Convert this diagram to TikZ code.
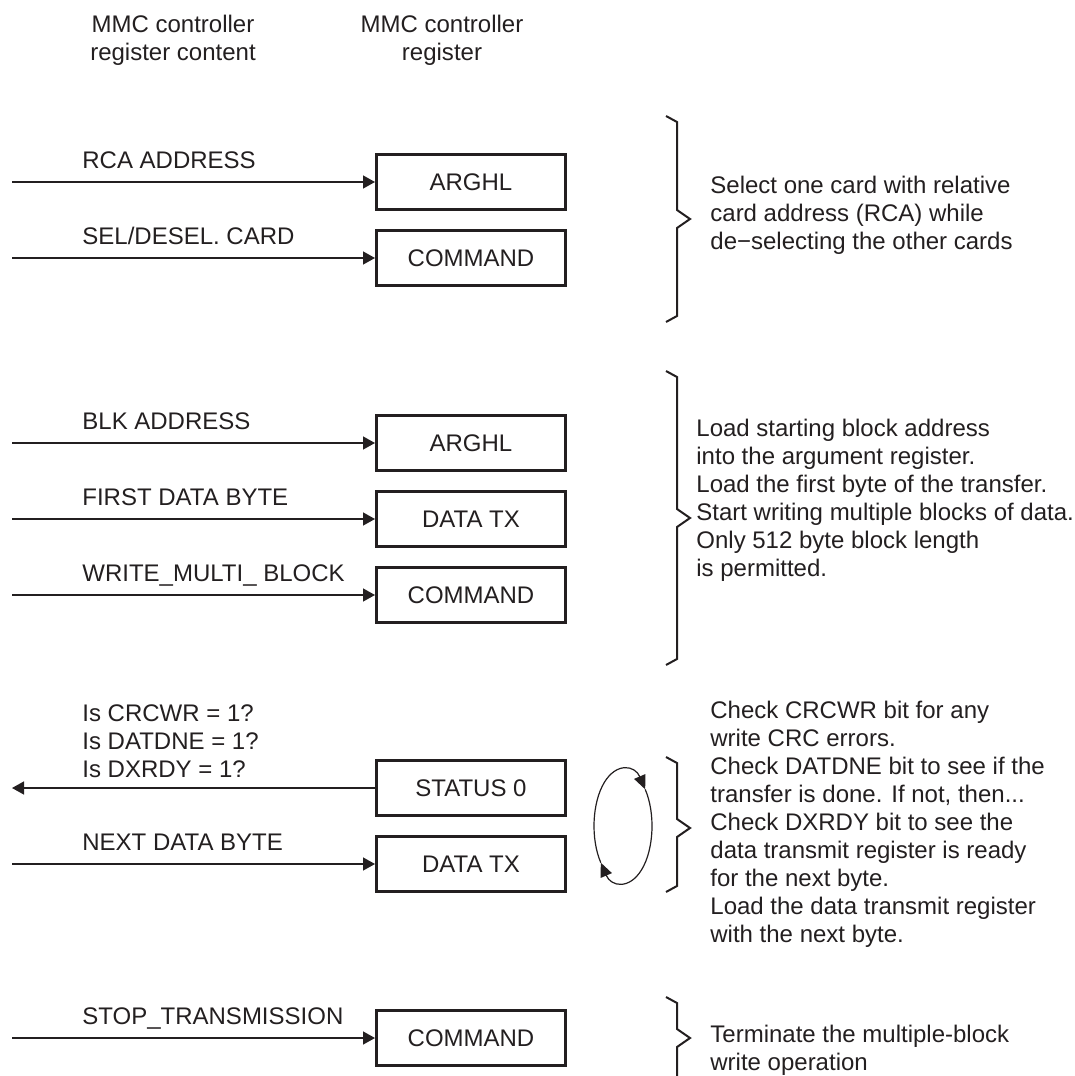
\documentclass[tikz,border=0pt]{standalone}
\usepackage{fontspec}
\setmainfont{Liberation Sans}
\usetikzlibrary{positioning}
\usetikzlibrary{arrows.meta}
\definecolor{ink}{RGB}{35,31,32}

\begin{document}
\begin{tikzpicture}[x=0.5pt, y=-0.5pt, node distance=9pt, color=ink,
	font=\fontsize{12}{14}\selectfont,
	reg/.style={draw, line width=1.5pt, minimum width=94.5pt, minimum height=27.5pt},
	lbl/.style={anchor=base west, inner sep=0pt},
	note/.style={anchor=west, align=left, inner sep=0pt},
	arr/.style={line width=0.7pt, -{Triangle[length=6pt,width=6.5pt]}},
	brc/.style={line width=1pt},
	cyc/.style={line width=0.6pt, -{Triangle[length=7pt,width=6pt]}}
	]
	\useasboundingbox (0,0) rectangle (1075,1076);
	\coordinate (lft) at (12,0);

	\node[align=center] (hdin) at (173,40) {MMC controller\\register content};
	\node[align=center] (hdreg) at (442,40) {MMC controller\\register};

	% select card
	\node[reg] (arg1) at (471,182) {ARGHL};
	\node[reg] (cmd1) [below=of arg1] {COMMAND};
	% write blocks
	\node[reg] (arg2) at (471,443) {ARGHL};
	\node[reg] (dtx2) [below=of arg2] {DATA TX};
	\node[reg] (cmd2) [below=of dtx2] {COMMAND};
	% polling
	\node[reg] (stat) at (471,788) {STATUS 0};
	\node[reg] (dtx3) [below=of stat] {DATA TX};
	% stop
	\node[reg] (cmd4) at (471,1038) {COMMAND};

	\foreach \b in {arg1,cmd1,arg2,dtx2,cmd2,dtx3,cmd4}
		\draw[arr] (\b.west -| lft) -- (\b.west);
	\draw[arr] (stat.west) -- (stat.west -| lft);

	\node[lbl] (rca) at ([xshift=35pt,yshift=7pt]arg1.west -| lft) {RCA ADDRESS};
	\node[lbl] (sel) at ([xshift=35pt,yshift=7pt]cmd1.west -| lft) {SEL/DESEL. CARD};
	\node[lbl] (blk) at ([xshift=35pt,yshift=7pt]arg2.west -| lft) {BLK ADDRESS};
	\node[lbl] (fdb) at ([xshift=35pt,yshift=7pt]dtx2.west -| lft) {FIRST DATA BYTE};
	\node[lbl] (wmb) at ([xshift=35pt,yshift=7pt]cmd2.west -| lft) {WRITE\_MULTI\_ BLOCK};
	\node[note] (isq) at ([xshift=35pt,yshift=23.5pt]stat.west -| lft) {Is CRCWR = 1?\\Is DATDNE = 1?\\Is DXRDY = 1?};
	\node[lbl] (ndb) at ([xshift=35pt,yshift=7pt]dtx3.west -| lft) {NEXT DATA BYTE};
	\node[lbl] (stp) at ([xshift=35pt,yshift=7pt]cmd4.west -| lft) {STOP\_TRANSMISSION};

	% loop between status and data
	\coordinate (lp) at (623,826);
	\draw[cyc] ([shift={(220:14.5pt and 28.5pt)}]lp) arc[start angle=220, end angle=40, x radius=14.5pt, y radius=28.5pt];
	\draw[cyc] ([shift={(40:14.5pt and 28.5pt)}]lp) arc[start angle=40, end angle=-140, x radius=14.5pt, y radius=28.5pt];

	% braces
	\foreach \t/\m/\e in {116/219/322, 371/518/665, 757/828/892, 997/1038/1090}
		\draw[brc] (666,\t) -- (677,\t+6) -- (677,\m-9) -- (690,\m) -- (677,\m+9) -- (677,\e-6) -- (666,\e);

	\node[note] (txt1) at (710,215) {Select one card with relative\\card address (RCA) while\\de−selecting the other cards};
	\node[note] (txt2) at (696,500) {Load starting block address\\into the argument register.\\Load the first byte of the transfer.\\Start writing multiple blocks of data.\\Only 512 byte block length\\is permitted.};
	\node[note] (txt3) at (710,824) {Check CRCWR bit for any\\write CRC errors.\\Check DATDNE bit to see if the\\transfer is done. If not, then...\\Check DXRDY bit to see the\\data transmit register is ready\\for the next byte.\\Load the data transmit register\\with the next byte.};
	\node[note] (txt4) at (710,1050) {Terminate the multiple-block\\write operation};
\end{tikzpicture}
\end{document}
